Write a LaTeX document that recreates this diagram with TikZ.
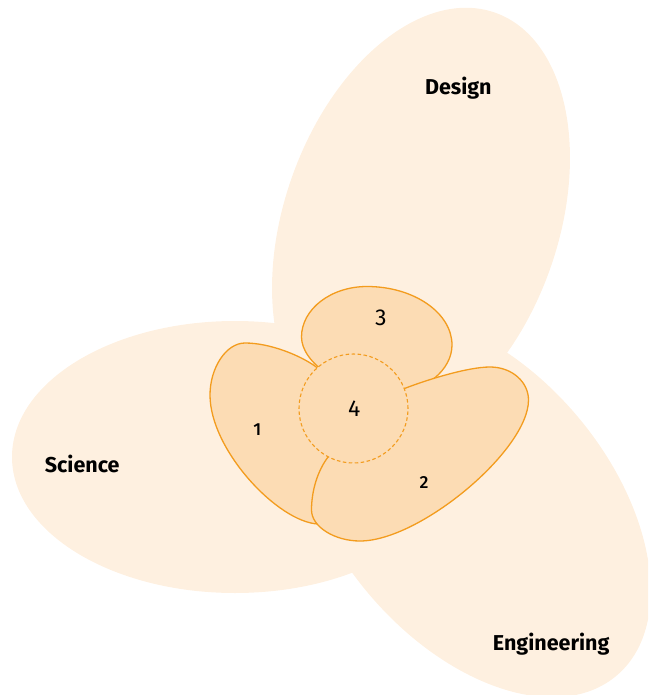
\documentclass[tikz,border=0pt]{standalone}
\usepackage{fontspec}
\setmainfont{Fira Sans}
\newfontfamily\medfont{Fira Sans Medium}
\definecolor{bigfill}{HTML}{FEF0E0}
\definecolor{petalfill}{HTML}{FCDCB4}
\definecolor{petalline}{HTML}{F39C1E}
\tikzset{
  field/.style={fill=bigfill, draw=none},
  petal/.style={fill=petalfill, draw=petalline, line width=1.3pt, line join=round},
  core/.style={fill=petalfill, draw=petalline, line width=1.1pt, dash pattern=on 3.5pt off 2.5pt},
  fieldlabel/.style={font=\bfseries\fontsize{21.5}{26}\selectfont, anchor=base, inner sep=0pt},
  numlabel/.style={font=\medfont\fontsize{17.5}{21}\selectfont, inner sep=0pt},
  biglabel/.style={font=\fontsize{23}{27}\selectfont, inner sep=0pt},
}
\begin{document}
\begin{tikzpicture}[x=1pt,y=1pt]
\useasboundingbox (0,0) rectangle (648,-695);
\clip (0,0) rectangle (648,-695);
% three fields
\fill[field, rotate around={70.6:(421,-223)}] (421,-223) ellipse [x radius=223, y radius=137];
\fill[field] (235,-457) ellipse [x radius=223, y radius=136];
\fill[field, rotate around={-50:(473,-505)}] (473,-505) ellipse [x radius=223, y radius=137];
% petal 3 (top)
\path[petal] (301.5,-337) .. controls (301.5,-309) and (331,-286.5) .. (367,-286.5)
  .. controls (414,-286.5) and (452,-313) .. (452,-345)
  .. controls (452,-370) and (425,-392) .. (395,-392)
  .. controls (340,-392) and (301.5,-362) .. (301.5,-337) -- cycle;
% petal 1 (left)
\path[petal] (245,-343) .. controls (270,-343) and (300.6,-355.4) .. (316.7,-367.3)
  .. controls (332.8,-379.2) and (348,-420) .. (345,-460)
  .. controls (345,-490) and (335,-524) .. (318,-524)
  .. controls (278,-522) and (210,-450) .. (210,-395)
  .. controls (210,-368) and (226,-343) .. (245,-343) -- cycle;
% petal 2 (lower right)
\path[petal] (490,-367) .. controls (512,-367) and (528.5,-382) .. (528.5,-400)
  .. controls (528.5,-450) and (420,-541) .. (360,-541)
  .. controls (335,-541) and (311.5,-527) .. (311.5,-510)
  .. controls (311.5,-490) and (318,-470) .. (328.3,-456.7)
  .. controls (343,-437) and (380,-398) .. (405,-388.3)
  .. controls (427.5,-379.6) and (468,-367) .. (490,-367) -- cycle;
% core
\path[core] (353.5,-408.5) circle [radius=54.5];
% labels
\node[fieldlabel] (design) at (458.3,-94.3) {Design};
\node[fieldlabel] (science) at (82.2,-472.3) {Science};
\node[fieldlabel] (engineering) at (551.2,-650.7) {Engineering};
\node[biglabel] (n3) at (380.8,-317.8) {3};
\node[biglabel] (n4) at (354.2,-408.3) {4};
\node[numlabel] (n1) at (257.2,-429.5) {1};
\node[numlabel] (n2) at (424,-482.8) {2};
\end{tikzpicture}
\end{document}
